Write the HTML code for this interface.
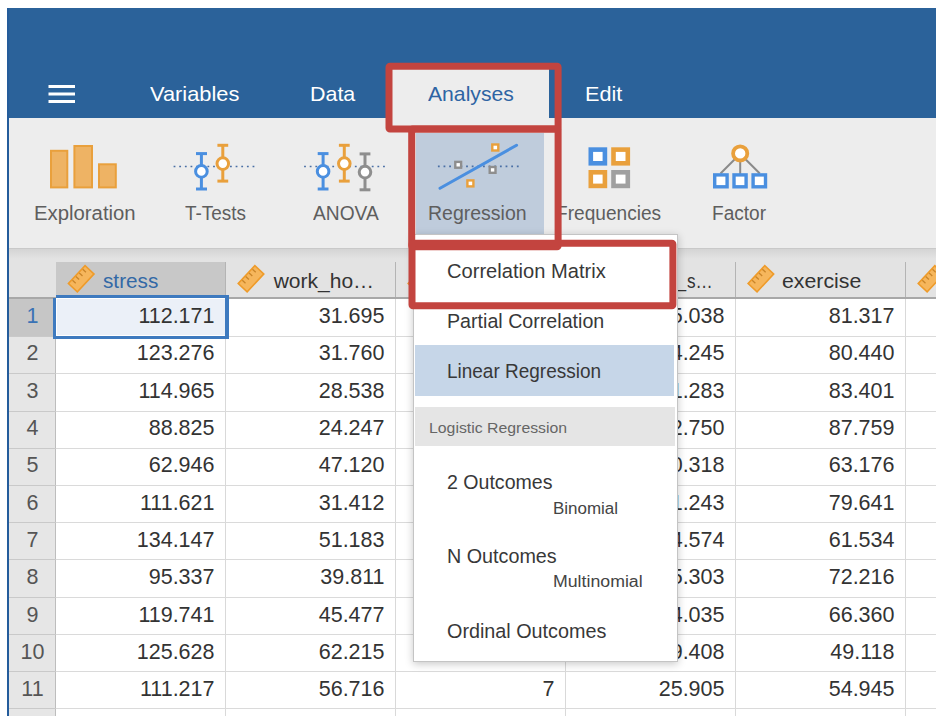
<!DOCTYPE html>
<html><head><meta charset="utf-8"><style>
*{margin:0;padding:0;box-sizing:border-box}
html,body{width:943px;height:721px;overflow:hidden;background:#fff}
body{position:relative;font-family:"Liberation Sans",sans-serif}
.a{position:absolute}
.t{position:absolute;white-space:nowrap;transform-origin:0 0;font-family:"Liberation Sans",sans-serif}
.vl{position:absolute;width:1px;background:#d9d9d9}
.hl{position:absolute;height:1px;background:#dadada}
</style></head><body>
<div class="a" style="left:7px;top:8px;width:929px;height:708px;overflow:hidden;background:#e3e3e3">
<div class="a" style="left:-7px;top:-8px;width:943px;height:721px">

<!-- blue header -->
<div class="a" style="left:0;top:0;width:943px;height:118px;background:#2b629a"></div>
<!-- analyses tab -->
<div class="a" style="left:389px;top:66px;width:160px;height:60px;background:#ededed"></div>
<!-- hamburger -->
<svg class="a" style="left:0;top:0" width="943" height="120">
 <rect x="48.5" y="85" width="26.5" height="3" fill="#fff"/>
 <rect x="48.5" y="92.5" width="26.5" height="3" fill="#fff"/>
 <rect x="48.5" y="100" width="26.5" height="3" fill="#fff"/>
</svg>
<span class="t" style="left:150.00px;top:82.70px;font-size:21px;line-height:21px;color:#ffffff;transform:scaleX(1.0387);">Variables</span>
<span class="t" style="left:310.08px;top:82.70px;font-size:21px;line-height:21px;color:#ffffff;transform:scaleX(1.0211);">Data</span>
<span class="t" style="left:428.00px;top:82.70px;font-size:21px;line-height:21px;color:#2e64a3;transform:scaleX(1.0070);">Analyses</span>
<span class="t" style="left:585.07px;top:82.80px;font-size:21px;line-height:21px;color:#ffffff;transform:scaleX(1.0297);">Edit</span>

<!-- toolbar -->
<div class="a" style="left:0;top:118px;width:943px;height:130px;background:#ededed"></div>
<div class="a" style="left:0;top:247.5px;width:943px;height:1.5px;background:#c9c9c9"></div>
<div class="a" style="left:0;top:249px;width:943px;height:10px;background:linear-gradient(#d4d4d4,#e3e3e3)"></div>
<!-- regression highlight -->
<div class="a" style="left:416px;top:133px;width:127.5px;height:100.5px;background:#bfccdc"></div>
<svg class="a" style="left:0;top:0" width="943" height="250">
 <!-- exploration -->
 <g fill="#eeb364" stroke="#e9a03c" stroke-width="2">
  <rect x="51" y="150.8" width="16.3" height="36.6"/>
  <rect x="74.4" y="146" width="17.6" height="41.4"/>
  <rect x="99" y="164.3" width="16.8" height="23.1"/>
 </g>
 <!-- t-tests -->
 <line x1="173.6" y1="166.5" x2="255" y2="166.5" stroke="#4a6fa5" stroke-width="1.6" stroke-dasharray="1.8 3.84"/>
 <g stroke="#4a8fe0" stroke-width="3" fill="#fff">
  <line x1="201.4" y1="153.6" x2="201.4" y2="189"/><line x1="196" y1="153.6" x2="207" y2="153.6"/><line x1="196" y1="189" x2="207" y2="189"/>
  <circle cx="201.4" cy="171.4" r="5.8"/>
 </g>
 <g stroke="#e9a03c" stroke-width="3" fill="#fff">
  <line x1="222.8" y1="145.3" x2="222.8" y2="181.1"/><line x1="217.4" y1="145.3" x2="228.2" y2="145.3"/><line x1="217.4" y1="181.1" x2="228.2" y2="181.1"/>
  <circle cx="222.8" cy="163.6" r="5.8"/>
 </g>
 <!-- anova -->
 <line x1="304.1" y1="166.5" x2="386" y2="166.5" stroke="#4a6fa5" stroke-width="1.6" stroke-dasharray="1.8 3.84"/>
 <g stroke="#4a8fe0" stroke-width="3" fill="#fff">
  <line x1="323.1" y1="153.6" x2="323.1" y2="189"/><line x1="317.7" y1="153.6" x2="328.5" y2="153.6"/><line x1="317.7" y1="189" x2="328.5" y2="189"/>
  <circle cx="323.1" cy="171.4" r="5.8"/>
 </g>
 <g stroke="#e9a03c" stroke-width="3" fill="#fff">
  <line x1="344.3" y1="145.3" x2="344.3" y2="181.1"/><line x1="338.9" y1="145.3" x2="349.7" y2="145.3"/><line x1="338.9" y1="181.1" x2="349.7" y2="181.1"/>
  <circle cx="344.3" cy="163.6" r="5.8"/>
 </g>
 <g stroke="#8e8e8e" stroke-width="3" fill="#fff">
  <line x1="365" y1="153.9" x2="365" y2="189.8"/><line x1="359.6" y1="153.9" x2="370.4" y2="153.9"/><line x1="359.6" y1="189.8" x2="370.4" y2="189.8"/>
  <circle cx="365" cy="172.1" r="5.8"/>
 </g>
 <!-- regression -->
 <line x1="437.9" y1="166.4" x2="519.5" y2="166.4" stroke="#4a6fa5" stroke-width="1.6" stroke-dasharray="1.8 3.84"/>
 <line x1="440" y1="188.2" x2="516.6" y2="145.2" stroke="#4a8fe0" stroke-width="3" stroke-linecap="round"/>
 <g stroke-width="2.4" fill="#fff">
  <rect x="455.3" y="161.9" width="5.8" height="5.8" stroke="#8e8e8e"/>
  <rect x="489.7" y="167" width="5.8" height="5.8" stroke="#8e8e8e"/>
  <rect x="492.3" y="144.5" width="6" height="6" stroke="#e9a03c"/>
  <rect x="467.4" y="180.4" width="6" height="6" stroke="#e9a03c"/>
 </g>
 <!-- frequencies -->
 <g stroke-width="4.6" fill="#fff">
  <rect x="590.8" y="149.6" width="14.1" height="13.7" stroke="#4a8fe0"/>
  <rect x="613.5" y="149.6" width="14.3" height="13.7" stroke="#e9a03c"/>
  <rect x="590.8" y="172.3" width="14.1" height="13.6" stroke="#e9a03c"/>
  <rect x="613.5" y="172.3" width="14.3" height="13.6" stroke="#a0a0a0"/>
 </g>
 <!-- factor -->
 <g stroke="#8a8a8a" stroke-width="2">
  <line x1="735" y1="159" x2="720.5" y2="173.5"/><line x1="745.3" y1="159" x2="759.8" y2="173.5"/><line x1="740.2" y1="161" x2="740.2" y2="174"/>
 </g>
 <circle cx="740.2" cy="153.4" r="7.1" stroke="#e9a03c" stroke-width="3.8" fill="#fff"/>
 <g stroke="#4a8fe0" stroke-width="3.4" fill="#fff">
  <rect x="714.7" y="174.9" width="12.4" height="11.9"/>
  <rect x="734" y="174.9" width="12.1" height="11.9"/>
  <rect x="753.1" y="174.9" width="12.4" height="11.9"/>
 </g>
</svg>
<span class="t" style="left:33.88px;top:203.10px;font-size:20px;line-height:20px;color:#5e5e5e;transform:scaleX(1.0160);">Exploration</span>
<span class="t" style="left:185.10px;top:203.10px;font-size:20px;line-height:20px;color:#5e5e5e;transform:scaleX(0.9464);">T-Tests</span>
<span class="t" style="left:313.40px;top:203.10px;font-size:20px;line-height:20px;color:#5e5e5e;transform:scaleX(0.9596);">ANOVA</span>
<span class="t" style="left:428.23px;top:203.10px;font-size:20px;line-height:20px;color:#5e5e5e;transform:scaleX(0.9744);">Regression</span>
<span class="t" style="left:556.04px;top:203.10px;font-size:20px;line-height:20px;color:#5e5e5e;transform:scaleX(0.9554);">Frequencies</span>
<span class="t" style="left:711.95px;top:203.10px;font-size:20px;line-height:20px;color:#5e5e5e;transform:scaleX(0.9532);">Factor</span>

<!-- table header -->
<div class="a" style="left:56px;top:262px;width:170px;height:36px;background:#c8c8c8"></div>
<div class="vl" style="left:225px;top:262px;height:36px;background:#b4b4b4"></div>
<div class="vl" style="left:395px;top:262px;height:36px;background:#b4b4b4"></div>
<div class="vl" style="left:565px;top:262px;height:36px;background:#b4b4b4"></div>
<div class="vl" style="left:735px;top:262px;height:36px;background:#b4b4b4"></div>
<div class="vl" style="left:905px;top:262px;height:36px;background:#b4b4b4"></div>
<div class="a" style="left:0;top:297px;width:943px;height:1.5px;background:#a8a8a8"></div>
<!-- rows area -->
<div class="a" style="left:56px;top:298.5px;width:900px;height:430px;background:#fff"></div>
<div class="a" style="left:0;top:298.5px;width:56px;height:430px;background:#e6e6e6"></div>
<div class="a" style="left:0;top:298.5px;width:56px;height:38.1px;background:#c6c6c6"></div>
<div class="a" style="left:54.5px;top:298.5px;width:1.5px;height:430px;background:#bdbdbd"></div>
<div class="vl" style="left:225px;top:298.5px;height:430px"></div>
<div class="vl" style="left:395px;top:298.5px;height:430px"></div>
<div class="vl" style="left:565px;top:298.5px;height:430px"></div>
<div class="vl" style="left:735px;top:298.5px;height:430px"></div>
<div class="vl" style="left:905px;top:298.5px;height:430px"></div>
<div class="hl" style="left:56px;top:336px;width:900px"></div>
<div class="hl" style="left:0;top:336px;width:56px;background:#c9c9c9"></div>
<div class="hl" style="left:56px;top:373px;width:900px"></div>
<div class="hl" style="left:0;top:373px;width:56px;background:#c9c9c9"></div>
<div class="hl" style="left:56px;top:411px;width:900px"></div>
<div class="hl" style="left:0;top:411px;width:56px;background:#c9c9c9"></div>
<div class="hl" style="left:56px;top:448px;width:900px"></div>
<div class="hl" style="left:0;top:448px;width:56px;background:#c9c9c9"></div>
<div class="hl" style="left:56px;top:485px;width:900px"></div>
<div class="hl" style="left:0;top:485px;width:56px;background:#c9c9c9"></div>
<div class="hl" style="left:56px;top:522px;width:900px"></div>
<div class="hl" style="left:0;top:522px;width:56px;background:#c9c9c9"></div>
<div class="hl" style="left:56px;top:559px;width:900px"></div>
<div class="hl" style="left:0;top:559px;width:56px;background:#c9c9c9"></div>
<div class="hl" style="left:56px;top:597px;width:900px"></div>
<div class="hl" style="left:0;top:597px;width:56px;background:#c9c9c9"></div>
<div class="hl" style="left:56px;top:634px;width:900px"></div>
<div class="hl" style="left:0;top:634px;width:56px;background:#c9c9c9"></div>
<div class="hl" style="left:56px;top:671px;width:900px"></div>
<div class="hl" style="left:0;top:671px;width:56px;background:#c9c9c9"></div>
<div class="hl" style="left:56px;top:708px;width:900px"></div>
<div class="hl" style="left:0;top:708px;width:56px;background:#c9c9c9"></div>
<!-- selected cell -->
<div class="a" style="left:56px;top:298px;width:169.5px;height:38px;border:1.3px solid #fff;background:#ebf0f8"></div>
<div class="a" style="left:56px;top:295px;width:173px;height:3px;background:#3e7abf"></div>
<div class="a" style="left:53px;top:298px;width:3px;height:41.4px;background:#3e7abf"></div>
<div class="a" style="left:225.3px;top:295px;width:3.7px;height:44.4px;background:#3e7abf"></div>
<div class="a" style="left:53px;top:336px;width:176px;height:3.4px;background:#3e7abf"></div>
<svg class="a" style="left:0;top:0" width="943" height="300">
 
 <g transform="translate(81.2,278.8)">
   <g transform="rotate(-47)">
    <rect x="-12.2" y="-6.1" width="24.4" height="12.2" fill="#f6b65c" stroke="#ee9b2a" stroke-width="1.6"/>
    <g stroke="#c9852a" stroke-width="1.3">
     <line x1="8" y1="-5.4" x2="8" y2="-1"/><line x1="3" y1="-5.4" x2="3" y2="-1"/>
     <line x1="-2" y1="-5.4" x2="-2" y2="-1"/><line x1="-7" y1="-5.4" x2="-7" y2="-1"/>
    </g>
   </g>
  </g>
 <g transform="translate(251,278.8)">
   <g transform="rotate(-47)">
    <rect x="-12.2" y="-6.1" width="24.4" height="12.2" fill="#f6b65c" stroke="#ee9b2a" stroke-width="1.6"/>
    <g stroke="#c9852a" stroke-width="1.3">
     <line x1="8" y1="-5.4" x2="8" y2="-1"/><line x1="3" y1="-5.4" x2="3" y2="-1"/>
     <line x1="-2" y1="-5.4" x2="-2" y2="-1"/><line x1="-7" y1="-5.4" x2="-7" y2="-1"/>
    </g>
   </g>
  </g>
 <g transform="translate(421,278.8)">
   <g transform="rotate(-47)">
    <rect x="-12.2" y="-6.1" width="24.4" height="12.2" fill="#f6b65c" stroke="#ee9b2a" stroke-width="1.6"/>
    <g stroke="#c9852a" stroke-width="1.3">
     <line x1="8" y1="-5.4" x2="8" y2="-1"/><line x1="3" y1="-5.4" x2="3" y2="-1"/>
     <line x1="-2" y1="-5.4" x2="-2" y2="-1"/><line x1="-7" y1="-5.4" x2="-7" y2="-1"/>
    </g>
   </g>
  </g>
 <g transform="translate(591,278.8)">
   <g transform="rotate(-47)">
    <rect x="-12.2" y="-6.1" width="24.4" height="12.2" fill="#f6b65c" stroke="#ee9b2a" stroke-width="1.6"/>
    <g stroke="#c9852a" stroke-width="1.3">
     <line x1="8" y1="-5.4" x2="8" y2="-1"/><line x1="3" y1="-5.4" x2="3" y2="-1"/>
     <line x1="-2" y1="-5.4" x2="-2" y2="-1"/><line x1="-7" y1="-5.4" x2="-7" y2="-1"/>
    </g>
   </g>
  </g>
 <g transform="translate(760.9,278.8)">
   <g transform="rotate(-47)">
    <rect x="-12.2" y="-6.1" width="24.4" height="12.2" fill="#f6b65c" stroke="#ee9b2a" stroke-width="1.6"/>
    <g stroke="#c9852a" stroke-width="1.3">
     <line x1="8" y1="-5.4" x2="8" y2="-1"/><line x1="3" y1="-5.4" x2="3" y2="-1"/>
     <line x1="-2" y1="-5.4" x2="-2" y2="-1"/><line x1="-7" y1="-5.4" x2="-7" y2="-1"/>
    </g>
   </g>
  </g>
 <g transform="translate(931,278.8)">
   <g transform="rotate(-47)">
    <rect x="-12.2" y="-6.1" width="24.4" height="12.2" fill="#f6b65c" stroke="#ee9b2a" stroke-width="1.6"/>
    <g stroke="#c9852a" stroke-width="1.3">
     <line x1="8" y1="-5.4" x2="8" y2="-1"/><line x1="3" y1="-5.4" x2="3" y2="-1"/>
     <line x1="-2" y1="-5.4" x2="-2" y2="-1"/><line x1="-7" y1="-5.4" x2="-7" y2="-1"/>
    </g>
   </g>
  </g>
</svg>
<span class="t" style="left:103.30px;top:269.80px;font-size:21px;line-height:21px;color:#3368a6;transform:scaleX(0.9873);">stress</span>
<span class="t" style="left:273.70px;top:269.80px;font-size:21px;line-height:21px;color:#333333;">work_ho…</span>
<span class="t" style="left:674.95px;top:268.80px;font-size:21px;line-height:21px;color:#333333;transform:scaleX(0.9462);">_</span>
<span class="t" style="left:687.10px;top:269.60px;font-size:21px;line-height:21px;color:#333333;transform:scaleX(0.8169);">s…</span>
<span class="t" style="left:782.40px;top:269.80px;font-size:21px;line-height:21px;color:#333333;transform:scaleX(1.0140);">exercise</span>
<span class="t" style="left:138.38px;top:306.15px;font-size:21.5px;line-height:21.5px;color:#333333;">112.171</span>
<span class="t" style="left:318.74px;top:306.15px;font-size:21.5px;line-height:21.5px;color:#333333;">31.695</span>
<span class="t" style="left:542.54px;top:306.15px;font-size:21.5px;line-height:21.5px;color:#333333;">6</span>
<span class="t" style="left:658.74px;top:306.15px;font-size:21.5px;line-height:21.5px;color:#333333;">25.038</span>
<span class="t" style="left:828.74px;top:306.15px;font-size:21.5px;line-height:21.5px;color:#333333;">81.317</span>
<span class="t" style="left:26.52px;top:306.15px;font-size:21.5px;line-height:21.5px;color:#3a73b5;">1</span>
<span class="t" style="left:136.78px;top:343.45px;font-size:21.5px;line-height:21.5px;color:#333333;">123.276</span>
<span class="t" style="left:318.74px;top:343.45px;font-size:21.5px;line-height:21.5px;color:#333333;">31.760</span>
<span class="t" style="left:542.54px;top:343.45px;font-size:21.5px;line-height:21.5px;color:#333333;">8</span>
<span class="t" style="left:658.74px;top:343.45px;font-size:21.5px;line-height:21.5px;color:#333333;">24.245</span>
<span class="t" style="left:828.74px;top:343.45px;font-size:21.5px;line-height:21.5px;color:#333333;">80.440</span>
<span class="t" style="left:26.52px;top:343.45px;font-size:21.5px;line-height:21.5px;color:#555555;">2</span>
<span class="t" style="left:138.38px;top:380.75px;font-size:21.5px;line-height:21.5px;color:#333333;">114.965</span>
<span class="t" style="left:318.74px;top:380.75px;font-size:21.5px;line-height:21.5px;color:#333333;">28.538</span>
<span class="t" style="left:542.54px;top:380.75px;font-size:21.5px;line-height:21.5px;color:#333333;">5</span>
<span class="t" style="left:658.74px;top:380.75px;font-size:21.5px;line-height:21.5px;color:#333333;">21.283</span>
<span class="t" style="left:828.74px;top:380.75px;font-size:21.5px;line-height:21.5px;color:#333333;">83.401</span>
<span class="t" style="left:26.52px;top:380.75px;font-size:21.5px;line-height:21.5px;color:#555555;">3</span>
<span class="t" style="left:148.74px;top:418.05px;font-size:21.5px;line-height:21.5px;color:#333333;">88.825</span>
<span class="t" style="left:318.74px;top:418.05px;font-size:21.5px;line-height:21.5px;color:#333333;">24.247</span>
<span class="t" style="left:542.54px;top:418.05px;font-size:21.5px;line-height:21.5px;color:#333333;">7</span>
<span class="t" style="left:658.74px;top:418.05px;font-size:21.5px;line-height:21.5px;color:#333333;">22.750</span>
<span class="t" style="left:828.74px;top:418.05px;font-size:21.5px;line-height:21.5px;color:#333333;">87.759</span>
<span class="t" style="left:26.52px;top:418.05px;font-size:21.5px;line-height:21.5px;color:#555555;">4</span>
<span class="t" style="left:148.74px;top:455.35px;font-size:21.5px;line-height:21.5px;color:#333333;">62.946</span>
<span class="t" style="left:318.74px;top:455.35px;font-size:21.5px;line-height:21.5px;color:#333333;">47.120</span>
<span class="t" style="left:542.54px;top:455.35px;font-size:21.5px;line-height:21.5px;color:#333333;">4</span>
<span class="t" style="left:658.74px;top:455.35px;font-size:21.5px;line-height:21.5px;color:#333333;">30.318</span>
<span class="t" style="left:828.74px;top:455.35px;font-size:21.5px;line-height:21.5px;color:#333333;">63.176</span>
<span class="t" style="left:26.52px;top:455.35px;font-size:21.5px;line-height:21.5px;color:#555555;">5</span>
<span class="t" style="left:139.97px;top:492.65px;font-size:21.5px;line-height:21.5px;color:#333333;">111.621</span>
<span class="t" style="left:318.74px;top:492.65px;font-size:21.5px;line-height:21.5px;color:#333333;">31.412</span>
<span class="t" style="left:542.54px;top:492.65px;font-size:21.5px;line-height:21.5px;color:#333333;">6</span>
<span class="t" style="left:658.74px;top:492.65px;font-size:21.5px;line-height:21.5px;color:#333333;">21.243</span>
<span class="t" style="left:828.74px;top:492.65px;font-size:21.5px;line-height:21.5px;color:#333333;">79.641</span>
<span class="t" style="left:26.52px;top:492.65px;font-size:21.5px;line-height:21.5px;color:#555555;">6</span>
<span class="t" style="left:136.78px;top:529.95px;font-size:21.5px;line-height:21.5px;color:#333333;">134.147</span>
<span class="t" style="left:318.74px;top:529.95px;font-size:21.5px;line-height:21.5px;color:#333333;">51.183</span>
<span class="t" style="left:542.54px;top:529.95px;font-size:21.5px;line-height:21.5px;color:#333333;">3</span>
<span class="t" style="left:658.74px;top:529.95px;font-size:21.5px;line-height:21.5px;color:#333333;">14.574</span>
<span class="t" style="left:828.74px;top:529.95px;font-size:21.5px;line-height:21.5px;color:#333333;">61.534</span>
<span class="t" style="left:26.52px;top:529.95px;font-size:21.5px;line-height:21.5px;color:#555555;">7</span>
<span class="t" style="left:148.74px;top:567.25px;font-size:21.5px;line-height:21.5px;color:#333333;">95.337</span>
<span class="t" style="left:320.34px;top:567.25px;font-size:21.5px;line-height:21.5px;color:#333333;">39.811</span>
<span class="t" style="left:542.54px;top:567.25px;font-size:21.5px;line-height:21.5px;color:#333333;">5</span>
<span class="t" style="left:658.74px;top:567.25px;font-size:21.5px;line-height:21.5px;color:#333333;">25.303</span>
<span class="t" style="left:828.74px;top:567.25px;font-size:21.5px;line-height:21.5px;color:#333333;">72.216</span>
<span class="t" style="left:26.52px;top:567.25px;font-size:21.5px;line-height:21.5px;color:#555555;">8</span>
<span class="t" style="left:138.38px;top:604.55px;font-size:21.5px;line-height:21.5px;color:#333333;">119.741</span>
<span class="t" style="left:318.74px;top:604.55px;font-size:21.5px;line-height:21.5px;color:#333333;">45.477</span>
<span class="t" style="left:542.54px;top:604.55px;font-size:21.5px;line-height:21.5px;color:#333333;">4</span>
<span class="t" style="left:658.74px;top:604.55px;font-size:21.5px;line-height:21.5px;color:#333333;">14.035</span>
<span class="t" style="left:828.74px;top:604.55px;font-size:21.5px;line-height:21.5px;color:#333333;">66.360</span>
<span class="t" style="left:26.52px;top:604.55px;font-size:21.5px;line-height:21.5px;color:#555555;">9</span>
<span class="t" style="left:136.78px;top:641.85px;font-size:21.5px;line-height:21.5px;color:#333333;">125.628</span>
<span class="t" style="left:318.74px;top:641.85px;font-size:21.5px;line-height:21.5px;color:#333333;">62.215</span>
<span class="t" style="left:542.54px;top:641.85px;font-size:21.5px;line-height:21.5px;color:#333333;">2</span>
<span class="t" style="left:658.74px;top:641.85px;font-size:21.5px;line-height:21.5px;color:#333333;">19.408</span>
<span class="t" style="left:830.34px;top:641.85px;font-size:21.5px;line-height:21.5px;color:#333333;">49.118</span>
<span class="t" style="left:20.54px;top:641.85px;font-size:21.5px;line-height:21.5px;color:#555555;">10</span>
<span class="t" style="left:139.97px;top:679.15px;font-size:21.5px;line-height:21.5px;color:#333333;">111.217</span>
<span class="t" style="left:318.74px;top:679.15px;font-size:21.5px;line-height:21.5px;color:#333333;">56.716</span>
<span class="t" style="left:542.54px;top:679.15px;font-size:21.5px;line-height:21.5px;color:#333333;">7</span>
<span class="t" style="left:658.74px;top:679.15px;font-size:21.5px;line-height:21.5px;color:#333333;">25.905</span>
<span class="t" style="left:828.74px;top:679.15px;font-size:21.5px;line-height:21.5px;color:#333333;">54.945</span>
<span class="t" style="left:21.34px;top:679.15px;font-size:21.5px;line-height:21.5px;color:#555555;">11</span>

<!-- menu -->
<div class="a" style="left:413px;top:234px;width:264.5px;height:428px;background:#fff;border:1px solid #c4c4c4;box-shadow:0 2px 8px rgba(0,0,0,0.22)"></div>
<div class="a" style="left:415.3px;top:345.3px;width:259px;height:50.5px;background:#c6d6e8"></div>
<div class="a" style="left:415.3px;top:406.7px;width:259.7px;height:38.9px;background:#e5e5e5"></div>
<span class="t" style="left:446.72px;top:260.55px;font-size:20.5px;line-height:20.5px;color:#383838;transform:scaleX(0.9813);">Correlation Matrix</span>
<span class="t" style="left:446.74px;top:311.45px;font-size:20.5px;line-height:20.5px;color:#383838;transform:scaleX(0.9584);">Partial Correlation</span>
<span class="t" style="left:446.77px;top:360.75px;font-size:20.5px;line-height:20.5px;color:#383838;transform:scaleX(0.9256);">Linear Regression</span>
<span class="t" style="left:428.78px;top:419.95px;font-size:15.5px;line-height:15.5px;color:#666666;transform:scaleX(1.0214);">Logistic Regression</span>
<span class="t" style="left:447.25px;top:472.15px;font-size:20.5px;line-height:20.5px;color:#383838;transform:scaleX(0.9545);">2 Outcomes</span>
<span class="t" style="left:552.84px;top:500.50px;font-size:16px;line-height:16px;color:#444444;transform:scaleX(1.0601);">Binomial</span>
<span class="t" style="left:447.24px;top:546.35px;font-size:20.5px;line-height:20.5px;color:#383838;transform:scaleX(0.9630);">N Outcomes</span>
<span class="t" style="left:552.79px;top:574.00px;font-size:16px;line-height:16px;color:#444444;transform:scaleX(1.1076);">Multinomial</span>
<span class="t" style="left:447.40px;top:620.65px;font-size:20.5px;line-height:20.5px;color:#383838;transform:scaleX(0.9645);">Ordinal Outcomes</span>

<!-- red annotation boxes -->
<svg class="a" style="left:0;top:0" width="943" height="721">
 <g fill="none" stroke="#c3443f" stroke-width="7">
  <rect x="389" y="66.2" width="169.1" height="62.8" rx="1"/>
  <rect x="411.7" y="129.1" width="146.4" height="117.6" rx="1"/>
  <rect x="412" y="243.2" width="260.9" height="62.5" rx="1"/>
 </g>
</svg>

</div>
</div>
<!-- left window border -->
<div class="a" style="left:7px;top:8px;width:2px;height:708px;background:#245c9b"></div>
</body></html>
